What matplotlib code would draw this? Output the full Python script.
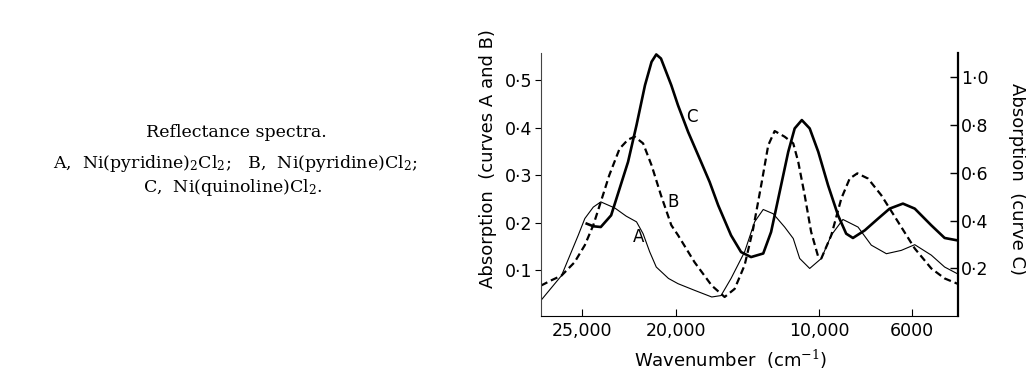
import numpy as np
import matplotlib
matplotlib.use("Agg")
import matplotlib.pyplot as plt

plt.rcParams['font.family'] = ['DejaVu Sans']
plt.rcParams['mathtext.fontset'] = 'dejavuserif'

# curve A, Ni(pyridine)2Cl2 (left axis)
wn_a = [27200, 26100, 25200, 24850, 24400, 24000, 23250, 22650, 22100, 21750,
        21400, 21050, 20400, 19860, 18700, 17500, 16850, 16150, 15200, 14500,
        13900, 13200, 12400, 11800, 11350, 10650, 9900, 9470, 8970, 8320,
        7750, 7100, 6460, 5880, 5160, 4580, 4030]
abs_a = [0.037, 0.089, 0.174, 0.209, 0.233, 0.244, 0.231, 0.214, 0.202, 0.177,
         0.139, 0.107, 0.083, 0.072, 0.058, 0.044, 0.047, 0.083, 0.139, 0.202,
         0.228, 0.219, 0.191, 0.167, 0.125, 0.104, 0.125, 0.174, 0.207, 0.191,
         0.153, 0.135, 0.142, 0.154, 0.132, 0.107, 0.093]

# curve B, Ni(pyridine)Cl2 (left axis)
wn_b = [27200, 26650, 26100, 25400, 24850, 24400, 24000, 23550, 23000, 22550,
        22200, 21750, 21300, 20800, 20250, 19860, 18700, 17500, 16600, 15900,
        15200, 14600, 14000, 13550, 13100, 12400, 11800, 11450, 11000, 10550,
        10050, 9900, 9470, 9040, 8680, 8350, 7890, 7320, 6600, 5880,
        5160, 4580, 4030]
abs_b = [0.068, 0.079, 0.089, 0.117, 0.153, 0.195, 0.244, 0.300, 0.356, 0.375,
         0.381, 0.367, 0.321, 0.258, 0.195, 0.174, 0.117, 0.068, 0.044, 0.061,
         0.111, 0.188, 0.286, 0.363, 0.393, 0.381, 0.367, 0.328, 0.258, 0.181,
         0.128, 0.125, 0.174, 0.251, 0.293, 0.304, 0.293, 0.258, 0.202, 0.146,
         0.104, 0.083, 0.072]

# curve C, Ni(quinoline)Cl2 (right axis)
wn_c = [24750, 24400, 24000, 23450, 23000, 22550, 22100, 21650, 21300, 21050,
        20800, 20250, 19860, 19150, 18250, 17650, 17050, 16150, 15450, 14750,
        13900, 13350, 12750, 12150, 11700, 11200, 10650, 10050, 9610, 9180,
        8830, 8540, 8030, 7460, 6960, 6390, 5880, 5160, 4580, 4030]
abs_c = [0.387, 0.376, 0.373, 0.422, 0.534, 0.646, 0.800, 0.967, 1.065, 1.096,
         1.079, 0.967, 0.883, 0.771, 0.646, 0.562, 0.464, 0.338, 0.268, 0.247,
         0.262, 0.352, 0.520, 0.688, 0.786, 0.821, 0.786, 0.688, 0.548, 0.422,
         0.345, 0.327, 0.359, 0.408, 0.450, 0.471, 0.450, 0.380, 0.327, 0.317]

x_ticks = [25000, 20000, 10000, 6000]
x_tick_labels = ['25,000', '20,000', '10,000', '6000']
left_ticks = [0.1, 0.2, 0.3, 0.4, 0.5]
left_tick_labels = ['0·1', '0·2', '0·3', '0·4', '0·5']
right_ticks = [0.2, 0.4, 0.6, 0.8, 1.0]
right_tick_labels = ['0·2', '0·4', '0·6', '0·8', '1·0']

# the printed wavenumber axis is not linear: piecewise scale
scale_wn = [4000, 6000, 10000, 20000, 25000, 27200]
scale_pos = [0, 46, 139, 282, 376, 417]


def fwd(w):
    return np.interp(w, scale_wn, scale_pos)


def inv(p):
    return np.interp(p, scale_pos, scale_wn)


fig = plt.figure(figsize=(10.26, 3.69), dpi=100)
ax = fig.add_axes([0.5273, 0.1436, 0.4064, 0.7127])
ax.set_xscale('function', functions=(fwd, inv))
ax2 = ax.twinx()

ax.plot(wn_a, abs_a, color='black', lw=0.8, solid_joinstyle='round')
ax.plot(wn_b, abs_b, color='black', lw=1.6, dashes=(3.2, 1.8),
        dash_joinstyle='round')
ax2.plot(wn_c, abs_c, color='black', lw=1.9, solid_joinstyle='round')

ax.set_xlim(27200, 4000)
ax.set_ylim(0.004, 0.557)
ax2.set_ylim(0.0, 1.102)

ax.set_xticks(x_ticks)
ax.set_xticklabels(x_tick_labels, fontsize=12.5)
ax.xaxis.set_minor_locator(matplotlib.ticker.NullLocator())
ax.set_yticks(left_ticks)
ax.set_yticklabels(left_tick_labels, fontsize=12.5)
ax2.set_yticks(right_ticks)
ax2.set_yticklabels(right_tick_labels, fontsize=12.5)

ax.tick_params(axis='x', direction='in', length=5, width=0.8, pad=4)
ax.tick_params(axis='y', direction='out', length=4, width=0.8, pad=2)
ax2.tick_params(axis='y', direction='in', length=6, width=1.0, pad=2)

for s in ['top', 'right']:
    ax.spines[s].set_visible(False)
for s in ['top', 'left', 'bottom']:
    ax2.spines[s].set_visible(False)
ax.spines['left'].set_linewidth(0.8)
ax.spines['left'].set_color('#444444')
ax.spines['bottom'].set_linewidth(0.8)
ax2.spines['right'].set_linewidth(1.6)

ax.text(18880, 0.423, 'C', fontsize=12, ha='center', va='center')
ax.text(20144, 0.244, 'B', fontsize=12, ha='center', va='center')
ax.text(21989, 0.170, 'A', fontsize=12, ha='center', va='center')

fig.text(0.7125, 0.026, 'Wavenumber  (cm$^{-1}$)', fontsize=13,
         ha='center', va='center')
fig.text(0.4756, 0.570, 'Absorption  (curves A and B)', fontsize=13,
         rotation=90, ha='center', va='center')
fig.text(0.991, 0.516, 'Absorption  (curve C)', fontsize=13,
         rotation=270, ha='center', va='center')

cap = dict(family='DejaVu Serif', fontsize=12.5, ha='center', va='center')
fig.text(0.230, 0.642, 'Reflectance spectra.', **cap)
fig.text(0.229, 0.558, r'A,  Ni(pyridine)$_2$Cl$_2$;   B,  Ni(pyridine)Cl$_2$;', **cap)
fig.text(0.227, 0.493, r'C,  Ni(quinoline)Cl$_2$.', **cap)

fig.savefig('out.png', dpi=100)
